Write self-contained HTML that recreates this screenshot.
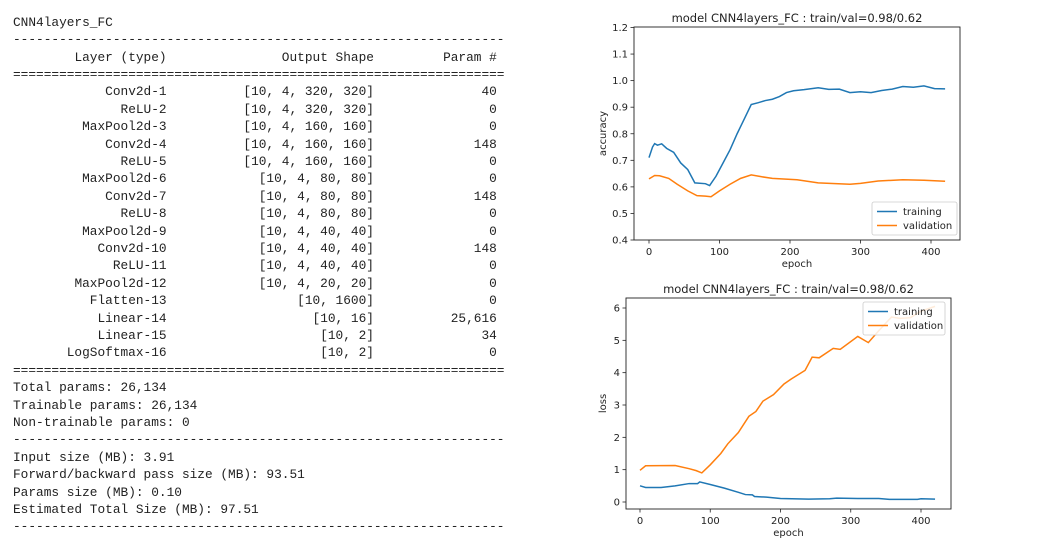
<!DOCTYPE html>
<html><head><meta charset="utf-8">
<style>
body{margin:0;width:1044px;height:555px;background:#fff;overflow:hidden;position:relative}
.mono{font-family:"Liberation Mono",monospace;font-size:12.8px;color:#222;position:absolute;white-space:pre;line-height:17.4px}
.row{position:absolute;left:0;height:17.4px;width:520px}
.c1,.c2,.c3{position:absolute;text-align:right;top:0}
.c1{left:13px;width:153.6px}
.c2{left:13px;width:360.96px}
.c3{left:13px;width:483.84px}
svg text{font-family:"DejaVu Sans",sans-serif;fill:#222}
</style></head><body>
<div class="mono" style="left:0;top:1.5px;width:520px;height:553px">
<div class="row" style="top:12.3px;left:13px">CNN4layers_FC</div>
<div class="row" style="top:29.7px;left:13px">----------------------------------------------------------------</div>
<div class="row" style="top:47.1px"><span class="c1">Layer (type)</span><span class="c2">Output Shape</span><span class="c3">Param #</span></div>
<div class="row" style="top:64.5px;left:13px">================================================================</div>
<div class="row" style="top:81.9px"><span class="c1">Conv2d-1</span><span class="c2">[10, 4, 320, 320]</span><span class="c3">40</span></div>
<div class="row" style="top:99.3px"><span class="c1">ReLU-2</span><span class="c2">[10, 4, 320, 320]</span><span class="c3">0</span></div>
<div class="row" style="top:116.7px"><span class="c1">MaxPool2d-3</span><span class="c2">[10, 4, 160, 160]</span><span class="c3">0</span></div>
<div class="row" style="top:134.1px"><span class="c1">Conv2d-4</span><span class="c2">[10, 4, 160, 160]</span><span class="c3">148</span></div>
<div class="row" style="top:151.5px"><span class="c1">ReLU-5</span><span class="c2">[10, 4, 160, 160]</span><span class="c3">0</span></div>
<div class="row" style="top:168.9px"><span class="c1">MaxPool2d-6</span><span class="c2">[10, 4, 80, 80]</span><span class="c3">0</span></div>
<div class="row" style="top:186.3px"><span class="c1">Conv2d-7</span><span class="c2">[10, 4, 80, 80]</span><span class="c3">148</span></div>
<div class="row" style="top:203.7px"><span class="c1">ReLU-8</span><span class="c2">[10, 4, 80, 80]</span><span class="c3">0</span></div>
<div class="row" style="top:221.1px"><span class="c1">MaxPool2d-9</span><span class="c2">[10, 4, 40, 40]</span><span class="c3">0</span></div>
<div class="row" style="top:238.5px"><span class="c1">Conv2d-10</span><span class="c2">[10, 4, 40, 40]</span><span class="c3">148</span></div>
<div class="row" style="top:255.9px"><span class="c1">ReLU-11</span><span class="c2">[10, 4, 40, 40]</span><span class="c3">0</span></div>
<div class="row" style="top:273.3px"><span class="c1">MaxPool2d-12</span><span class="c2">[10, 4, 20, 20]</span><span class="c3">0</span></div>
<div class="row" style="top:290.7px"><span class="c1">Flatten-13</span><span class="c2">[10, 1600]</span><span class="c3">0</span></div>
<div class="row" style="top:308.1px"><span class="c1">Linear-14</span><span class="c2">[10, 16]</span><span class="c3">25,616</span></div>
<div class="row" style="top:325.5px"><span class="c1">Linear-15</span><span class="c2">[10, 2]</span><span class="c3">34</span></div>
<div class="row" style="top:342.9px"><span class="c1">LogSoftmax-16</span><span class="c2">[10, 2]</span><span class="c3">0</span></div>
<div class="row" style="top:360.3px;left:13px">================================================================</div>
<div class="row" style="top:377.7px;left:13px">Total params: 26,134</div>
<div class="row" style="top:395.1px;left:13px">Trainable params: 26,134</div>
<div class="row" style="top:412.5px;left:13px">Non-trainable params: 0</div>
<div class="row" style="top:429.9px;left:13px">----------------------------------------------------------------</div>
<div class="row" style="top:447.3px;left:13px">Input size (MB): 3.91</div>
<div class="row" style="top:464.7px;left:13px">Forward/backward pass size (MB): 93.51</div>
<div class="row" style="top:482.1px;left:13px">Params size (MB): 0.10</div>
<div class="row" style="top:499.5px;left:13px">Estimated Total Size (MB): 97.51</div>
<div class="row" style="top:516.9px;left:13px">----------------------------------------------------------------</div>
</div>

<svg id="charts" width="1044" height="555" style="position:absolute;left:0;top:0"></svg>

<script>
// accuracy chart data
const accTrainEpochs=[0,5,8,12,18,25,35,45,55,65,80,86,95,105,115,125,135,145,155,165,175,185,195,205,220,240,255,270,285,300,315,330,345,360,375,390,405,420];
const accTrainValues=[0.71,0.75,0.763,0.757,0.762,0.745,0.73,0.69,0.665,0.615,0.612,0.605,0.64,0.69,0.74,0.80,0.855,0.91,0.917,0.925,0.93,0.94,0.955,0.962,0.966,0.973,0.967,0.968,0.955,0.958,0.955,0.963,0.968,0.978,0.975,0.98,0.97,0.969];
const accValEpochs=[0,8,15,28,40,55,68,80,88,100,115,130,145,160,175,210,240,285,300,325,360,390,420];
const accValValues=[0.63,0.643,0.642,0.632,0.61,0.585,0.567,0.565,0.563,0.585,0.61,0.632,0.645,0.638,0.632,0.627,0.615,0.61,0.613,0.622,0.627,0.625,0.621];
const accYTicks=["0.4","0.5","0.6","0.7","0.8","0.9","1.0","1.1","1.2"];
// loss chart data
const lossTrainEpochs=[0,8,30,50,70,82,85,100,120,140,150,160,163,180,200,240,270,280,310,340,355,395,400,420];
const lossTrainValues=[0.5,0.45,0.45,0.5,0.57,0.57,0.62,0.54,0.43,0.3,0.23,0.22,0.17,0.15,0.11,0.09,0.1,0.12,0.11,0.11,0.08,0.08,0.1,0.09];
const lossValEpochs=[0,8,50,70,80,88,100,115,125,140,155,165,175,190,205,215,235,245,255,275,285,310,325,340,358,370,385,400,420];
const lossValValues=[0.98,1.12,1.13,1.03,0.97,0.9,1.15,1.5,1.8,2.15,2.65,2.8,3.12,3.32,3.65,3.8,4.07,4.48,4.46,4.75,4.72,5.12,4.93,5.3,5.72,5.68,5.7,5.9,6.05];
const lossYTicks=["0","1","2","3","4","5","6"];
const xTicks=["0","100","200","300","400"];

const svg=document.getElementById('charts');
const NS='http://www.w3.org/2000/svg';
function mk(tag,attrs,parent){const e=document.createElementNS(NS,tag);for(const k in attrs)e.setAttribute(k,attrs[k]);(parent||svg).appendChild(e);return e;}

function chart(o){
  const g=mk('g',{});
  
  
  const xs=v=>o.x0+(v-0)*(o.x400-o.x0)/400;
  const ys=v=>o.yBot+(v-o.yMin)*(o.yTop-o.yBot)/(o.yMax-o.yMin);
  const fr=mk('rect',{x:o.L,y:o.T,width:o.R-o.L,height:o.B-o.T,fill:'none',stroke:'#222','stroke-width':0.9},g);
  
  
  xTicks.forEach(t=>{const x=xs(+t);
    mk('line',{x1:x,x2:x,y1:o.B,y2:o.B+3.5,stroke:'#222','stroke-width':0.8},g);
    const tx=mk('text',{x:x,y:o.B+15,'font-size':10,'text-anchor':'middle'},g);tx.textContent=t;
    
    
  });
  o.yTicks.forEach(t=>{const y=ys(+t);
    mk('line',{x1:o.L-3.5,x2:o.L,y1:y,y2:y,stroke:'#222','stroke-width':0.8},g);
    const tx=mk('text',{x:o.L-6,y:y+3.5,'font-size':10,'text-anchor':'end'},g);tx.textContent=t;
    
    
  });
  const title=mk('text',{x:(o.L+o.R)/2,y:o.T-5,'font-size':11.5,'text-anchor':'middle'},g);
  title.textContent='model CNN4layers_FC : train/val=0.98/0.62';
  
  
  const xl=mk('text',{x:(o.L+o.R)/2,y:o.B+27,'font-size':10,'text-anchor':'middle'},g);xl.textContent='epoch';
  
  
  const yl=mk('text',{x:0,y:0,'font-size':10,'text-anchor':'middle',transform:`translate(${o.ylx},${(o.T+o.B)/2}) rotate(-90)`},g);yl.textContent=o.ylabel;
  
  
  const line=(ex,vals,col,name)=>{const p=mk('polyline',{points:ex.map((e,i)=>xs(e)+','+ys(vals[i])).join(' '),fill:'none',stroke:col,'stroke-width':1.5},g);
    
    };
  line(o.tE,o.tV,'#1f77b4','training-line');
  line(o.vE,o.vV,'#ff7f0e','validation-line');
  const lg=mk('g',{},g);
  
  
  mk('rect',{x:o.lx,y:o.ly,width:o.lw,height:33,rx:2,fill:'#fff','fill-opacity':0.85,stroke:'#ccc','stroke-width':0.8},lg);
  [['training','#1f77b4'],['validation','#ff7f0e']].forEach((a,i)=>{const y=o.ly+9.5+i*14;
    mk('line',{x1:o.lx+5,x2:o.lx+25,y1:y,y2:y,stroke:a[1],'stroke-width':1.5},lg);
    const t=mk('text',{x:o.lx+31,y:y+3.5,'font-size':10},lg);t.textContent=a[0];
    
    
  });
}
chart({name:'accuracy-chart',L:634,R:960,T:27,B:240,x0:649,x400:931,yMin:0.4,yMax:1.2,yBot:240,yTop:27.5,yTicks:accYTicks,
  tE:accTrainEpochs,tV:accTrainValues,vE:accValEpochs,vV:accValValues,ylabel:'accuracy',ylx:606,lx:872,ly:202,lw:85});
chart({name:'loss-chart',L:626,R:951,T:298,B:509,x0:640,x400:921,yMin:0,yMax:6,yBot:502,yTop:308,yTicks:lossYTicks,
  tE:lossTrainEpochs,tV:lossTrainValues,vE:lossValEpochs,vV:lossValValues,ylabel:'loss',ylx:606,lx:863,ly:302,lw:82});
</script>
</body></html>
